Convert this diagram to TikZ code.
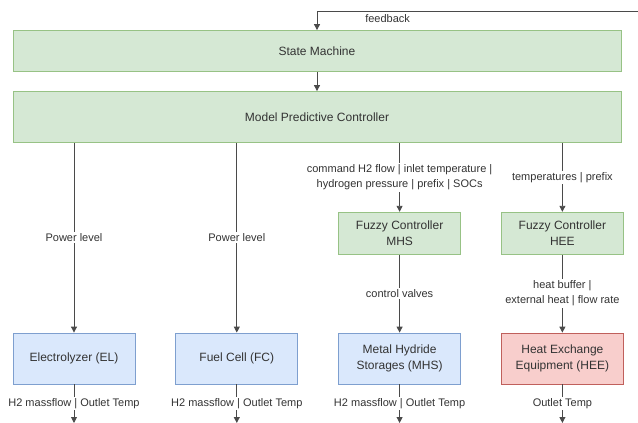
\documentclass[tikz,border=0pt]{standalone}
\usepackage{fontspec}
\setmainfont{Liberation Sans}
\usetikzlibrary{arrows.meta,positioning}

% drawio-like colours
\definecolor{greenfill}{HTML}{D5E8D4}
\definecolor{greenline}{HTML}{97C285}
\definecolor{bluefill}{HTML}{DAE8FC}
\definecolor{blueline}{HTML}{7E9FCF}
\definecolor{redfill}{HTML}{F8CECC}
\definecolor{redline}{HTML}{C0605C}
\definecolor{textgray}{HTML}{333333}
\definecolor{linegray}{HTML}{4A4A4A}

\begin{document}
\begin{tikzpicture}[x=1pt,y=-1pt,
    block/.style={draw=#1line, fill=#1fill, line width=0.8pt, text=textgray,
        font=\fontsize{12}{16}\selectfont, align=center, inner sep=0pt,
        minimum width=122pt, minimum height=51pt},
    flow/.style={draw=linegray, line width=0.9pt, -{Triangle[length=6pt,width=6pt]}},
    lbl/.style={fill=white, text=textgray, font=\fontsize{11}{15}\selectfont,
        align=center, inner sep=1.5pt},
    node distance=40pt]
    \useasboundingbox (0,0) rectangle (638,423);
    % Top controllers
    \node[block=green, minimum width=608pt, minimum height=41pt] (sm) at (317,51) {State Machine};
    \node[block=green, minimum width=608pt] (mpc) at (317,117) {Model Predictive Controller};
    % Plant components
    \node[block=blue] (el) at (74,358.5) {Electrolyzer (EL)};
    \node[block=blue, right=of el] (fc) {Fuel Cell (FC)};
    \node[block=blue, right=of fc] (mhs) {Metal Hydride\\Storages (MHS)};
    \node[block=red, right=of mhs] (hee) {Heat Exchange\\Equipment (HEE)};
    % Fuzzy controllers
    \node[block=green, minimum height=42pt, above=78pt of mhs] (fmhs) {Fuzzy Controller\\MHS};
    \node[block=green, minimum height=42pt, above=78pt of hee] (fhee) {Fuzzy Controller\\HEE};
    % Feedback loop
    \coordinate (fbin) at (638,11);
    \draw[flow] (fbin) -| node[pos=0.39, below, text=textgray, font=\fontsize{11}{13}\selectfont] {feedback} (sm.north);
    \draw[flow] (sm) -- (mpc);
    % Commands from the MPC
    \foreach \n in {el,fc}
        \draw[flow] (mpc.south -| \n.north) -- node[lbl] {Power level} (\n);
    \draw[flow] (mpc.south -| fmhs.north) -- node[lbl] {command H2 flow | inlet temperature |\\hydrogen pressure | prefix | SOCs} (fmhs);
    \draw[flow] (mpc.south -| fhee.north) -- node[lbl] {temperatures | prefix} (fhee);
    \draw[flow] (fmhs) -- node[lbl] {control valves} (mhs);
    \draw[flow] (fhee) -- node[lbl] {heat buffer |\\external heat | flow rate} (hee);
    % Outputs
    \foreach \n/\txt in {el/H2 massflow | Outlet Temp, fc/H2 massflow | Outlet Temp,
                         mhs/H2 massflow | Outlet Temp, hee/Outlet Temp}{
        \coordinate (\n out) at (\n.south |- 0,423);
        \draw[flow] (\n) -- node[lbl] {\txt} (\n out);
    }
\end{tikzpicture}
\end{document}
